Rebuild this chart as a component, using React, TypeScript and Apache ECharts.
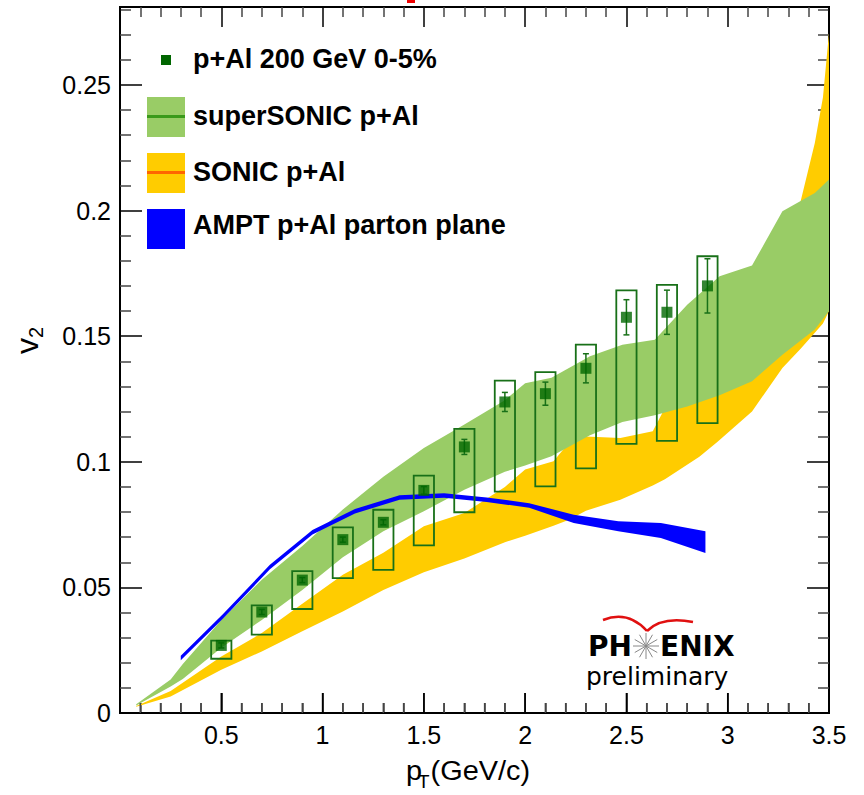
import React, { useEffect, useRef } from "react";
import * as echarts from "echarts";

// ---- data ----
const ptX = [0.5, 0.7, 0.9, 1.1, 1.3, 1.5, 1.7, 1.9, 2.1, 2.3, 2.5, 2.7, 2.9];
const ptV2 = [0.0269, 0.0402, 0.0529, 0.069, 0.0759, 0.0886, 0.1059, 0.1238, 0.1271, 0.1372, 0.1575, 0.1595, 0.17];
const statErr = [0.001, 0.001, 0.001, 0.001, 0.001, 0.0015, 0.003, 0.0038, 0.0046, 0.0058, 0.007, 0.0088, 0.0108];
const sysLow = [0.0216, 0.0312, 0.0414, 0.0537, 0.057, 0.0667, 0.0799, 0.0881, 0.0902, 0.0974, 0.1071, 0.1083, 0.1154];
const sysHigh = [0.0288, 0.0428, 0.0565, 0.0739, 0.0809, 0.0945, 0.1131, 0.1323, 0.1357, 0.1466, 0.1682, 0.1704, 0.1818];
const binHalfWidth = 0.05;

const superX = [0.08, 0.25, 0.31, 0.5, 0.7, 0.9, 1.1, 1.3, 1.5, 1.7, 1.9, 2.0, 2.13, 2.32, 2.48, 2.64, 2.8, 2.96, 3.12, 3.27, 3.43, 3.5];
const superHi = [0.0035, 0.0133, 0.0195, 0.037, 0.053, 0.0665, 0.081, 0.094, 0.1055, 0.1148, 0.1245, 0.1312, 0.1334, 0.142, 0.1466, 0.1486, 0.1625, 0.1738, 0.1781, 0.1997, 0.207, 0.2123];
const superLo = [0.003, 0.0105, 0.0135, 0.026, 0.037, 0.049, 0.062, 0.0723, 0.0803, 0.0889, 0.096, 0.0985, 0.1022, 0.1105, 0.1158, 0.1185, 0.122, 0.1265, 0.132, 0.1426, 0.1526, 0.16];

const sonicX = [0.08, 0.25, 0.5, 0.7, 0.9, 1.1, 1.3, 1.5, 1.7, 1.9, 2.0, 2.14, 2.22, 2.3, 2.47, 2.63, 2.69, 2.86, 2.95, 3.12, 3.27, 3.36, 3.43, 3.47, 3.5];
const sonicHi = [0.0028, 0.0088, 0.0225, 0.0318, 0.0435, 0.055, 0.0638, 0.0743, 0.0796, 0.09, 0.0969, 0.1002, 0.108, 0.1101, 0.1095, 0.1121, 0.1214, 0.1267, 0.13, 0.14, 0.175, 0.2037, 0.2269, 0.245, 0.2707];
const sonicLo = [0.0025, 0.0066, 0.0172, 0.0245, 0.0325, 0.0404, 0.049, 0.056, 0.0615, 0.068, 0.0705, 0.0745, 0.077, 0.0805, 0.0849, 0.0905, 0.093, 0.102, 0.108, 0.12, 0.1373, 0.145, 0.1513, 0.155, 0.16];

const amptX = [0.3, 0.51, 0.74, 0.95, 1.16, 1.38, 1.6, 1.81, 2.02, 2.24, 2.46, 2.67, 2.89];
const amptHi = [0.0228, 0.0395, 0.059, 0.0728, 0.0812, 0.0867, 0.0875, 0.0858, 0.0835, 0.0789, 0.0763, 0.0756, 0.0723];
const amptLo = [0.021, 0.0377, 0.0572, 0.071, 0.0794, 0.0849, 0.0857, 0.084, 0.0817, 0.0756, 0.0723, 0.0697, 0.0637];

const xMin = 0;
const xMax = 3.5;
const xTickStep = 0.5;
const xMinorStep = 0.1;
const yTickStep = 0.05;

const legendLabels = ["p+Al 200 GeV 0-5%", "superSONIC p+Al", "SONIC p+Al", "AMPT p+Al parton plane"];

const FONT = "'Liberation Sans', Arial, Helvetica, sans-serif";
const GREEN_BAND = "#99cc66";
const YELLOW_BAND = "#ffcc00";
const BLUE_BAND = "#0000ff";
const DATA_GREEN = "#006600";
const BOX_GREEN = "#187018";

function bandSeries(name: string, xs: number[], lo: number[], hi: number[], color: string) {
  return {
    type: "custom",
    name,
    xAxisIndex: 0,
    yAxisIndex: 0,
    clip: true,
    silent: true,
    data: xs.map((x, i) => [x, lo[i], hi[i]]),
    encode: { x: 0, y: [1, 2] },
    renderItem: (params: any, api: any) => {
      if (params.dataIndex !== 0) return null;
      const up = xs.map((x, i) => api.coord([x, hi[i]]));
      const dn = xs.map((x, i) => api.coord([x, lo[i]])).reverse();
      return {
        type: "polygon",
        shape: { points: up.concat(dn) },
        style: { fill: color },
      };
    },
  };
}

export default function App() {
  const ref = useRef<HTMLDivElement>(null);
  useEffect(() => {
    if (!ref.current) return;
    const chart = echarts.init(ref.current, undefined, { renderer: "svg" });

    const isMultiple = (v: number, step: number) => Math.abs(v / step - Math.round(v / step)) < 1e-6;

    const xAxisBase = {
      type: "value",
      min: xMin,
      max: xMax,
      interval: xTickStep,
      splitLine: { show: false },
      axisTick: { show: true, inside: true, length: 20, lineStyle: { color: "#000", width: 1.5 } },
      minorTick: { show: true, splitNumber: 5, length: 10, lineStyle: { color: "#444", width: 1.5 } },
    };
    const yAxisBase = {
      type: "value",
      min: 0,
      max: 0.281,
      interval: yTickStep,
      splitLine: { show: false },
      axisTick: { show: true, inside: true, length: 22, lineStyle: { color: "#000", width: 1.5 } },
      minorTick: { show: true, splitNumber: 5, length: 11, lineStyle: { color: "#444", width: 1.5 } },
    };

    // tick values of the bottom axis (drawn through the axis scale by a custom series)
    const bottomTicks: number[] = [];
    for (let k = 1; k * xMinorStep < xMax - 1e-9; k++) bottomTicks.push(+(k * xMinorStep).toFixed(2));

    const option: any = {
      animation: false,
      backgroundColor: "#fff",
      grid: {
        left: 120,
        top: 7,
        width: 709,
        height: 706,
        show: true,
        borderColor: "#000",
        borderWidth: 2,
        backgroundColor: "transparent",
      },
      xAxis: [
        {
          ...xAxisBase,
          position: "bottom",
          axisLine: { show: true, onZero: false, lineStyle: { color: "#000", width: 2 } },
          axisLabel: {
            show: true,
            fontSize: 25,
            color: "#000",
            fontFamily: FONT,
            margin: 9,
            formatter: (v: number) => (v === 0 ? "" : String(v)),
          },
        },
        {
          ...xAxisBase,
          position: "top",
          axisLine: { show: true, onZero: false, lineStyle: { color: "#000", width: 2 } },
          axisLabel: { show: false },
        },
      ],
      yAxis: [
        {
          ...yAxisBase,
          position: "left",
          axisLine: { show: true, onZero: false, lineStyle: { color: "#000", width: 2 } },
          axisLabel: {
            show: true,
            fontSize: 25,
            color: "#000",
            fontFamily: FONT,
            margin: 9,
            formatter: (v: number) => (isMultiple(v, yTickStep) ? String(+v.toFixed(2)) : ""),
          },
        },
        {
          ...yAxisBase,
          position: "right",
          axisLine: { show: true, onZero: false, lineStyle: { color: "#000", width: 2 } },
          axisLabel: { show: false },
        },
      ],
      series: [
        bandSeries("SONIC p+Al", sonicX, sonicLo, sonicHi, YELLOW_BAND),
        bandSeries("superSONIC p+Al", superX, superLo, superHi, GREEN_BAND),
        bandSeries("AMPT p+Al parton plane", amptX, amptLo, amptHi, BLUE_BAND),
        {
          type: "custom",
          name: "sys",
          xAxisIndex: 0,
          yAxisIndex: 0,
          silent: true,
          data: ptX.map((x, i) => [x, sysLow[i], sysHigh[i]]),
          encode: { x: 0, y: [1, 2] },
          renderItem: (params: any, api: any) => {
            const x = api.value(0);
            const p1 = api.coord([x - binHalfWidth, api.value(2)]);
            const p2 = api.coord([x + binHalfWidth, api.value(1)]);
            return {
              type: "rect",
              shape: { x: p1[0], y: p1[1], width: p2[0] - p1[0], height: p2[1] - p1[1] },
              style: { fill: "none", stroke: BOX_GREEN, lineWidth: 1.8 },
            };
          },
        },
        {
          type: "custom",
          name: "stat",
          xAxisIndex: 0,
          yAxisIndex: 0,
          silent: true,
          data: ptX.map((x, i) => [x, ptV2[i] - statErr[i], ptV2[i] + statErr[i]]),
          encode: { x: 0, y: [1, 2] },
          renderItem: (params: any, api: any) => {
            const x = api.value(0);
            const lo = api.coord([x, api.value(1)]);
            const hi = api.coord([x, api.value(2)]);
            const st = { stroke: BOX_GREEN, lineWidth: 1.5 };
            return {
              type: "group",
              children: [
                { type: "line", shape: { x1: lo[0], y1: lo[1], x2: hi[0], y2: hi[1] }, style: st },
                { type: "line", shape: { x1: lo[0] - 3, y1: lo[1], x2: lo[0] + 3, y2: lo[1] }, style: st },
                { type: "line", shape: { x1: hi[0] - 3, y1: hi[1], x2: hi[0] + 3, y2: hi[1] }, style: st },
              ],
            };
          },
        },
        {
          type: "scatter",
          name: legendLabels[0],
          xAxisIndex: 0,
          yAxisIndex: 0,
          symbol: "rect",
          symbolSize: 11,
          itemStyle: { color: DATA_GREEN },
          data: ptX.map((x, i) => [x, ptV2[i]]),
          z: 5,
        },
        {
          // bottom frame line and inner ticks, positioned through the axis scale
          type: "custom",
          name: "bottomAxis",
          xAxisIndex: 0,
          yAxisIndex: 0,
          silent: true,
          clip: false,
          z: 20,
          data: [[xMin, 0]],
          renderItem: (params: any, api: any) => {
            const a = api.coord([xMin, 0]);
            const b = api.coord([xMax, 0]);
            const children: any[] = [
              { type: "line", shape: { x1: a[0] - 1, y1: a[1], x2: b[0] + 1, y2: b[1] }, style: { stroke: "#000", lineWidth: 2 } },
            ];
            bottomTicks.forEach((v) => {
              const p = api.coord([v, 0]);
              const major = isMultiple(v, xTickStep);
              children.push({
                type: "line",
                shape: { x1: p[0], y1: p[1], x2: p[0], y2: p[1] - (major ? 20 : 10) },
                style: { stroke: major ? "#000" : "#444", lineWidth: 1.5 },
              });
            });
            return { type: "group", children };
          },
        },
      ],
      graphic: [
        { type: "rect", shape: { x: 407, y: 0, width: 8, height: 3 }, style: { fill: "#ee0000" } },
        { type: "rect", shape: { x: 161, y: 55, width: 10, height: 10 }, style: { fill: DATA_GREEN } },
        { type: "rect", shape: { x: 147, y: 97, width: 38, height: 40 }, style: { fill: GREEN_BAND } },
        { type: "line", shape: { x1: 147, y1: 116.5, x2: 185, y2: 116.5 }, style: { stroke: "#3a9a1a", lineWidth: 3 } },
        { type: "rect", shape: { x: 147, y: 153, width: 38, height: 40 }, style: { fill: YELLOW_BAND } },
        { type: "line", shape: { x1: 147, y1: 172.5, x2: 185, y2: 172.5 }, style: { stroke: "#ff6600", lineWidth: 3 } },
        { type: "rect", shape: { x: 147, y: 209, width: 38, height: 40 }, style: { fill: BLUE_BAND } },
        ...legendLabels.map((t, i) => ({
          type: "text",
          x: 193,
          y: [59, 115.6, 172.2, 224.6][i],
          style: {
            text: t,
            fontSize: 27,
            fontWeight: "bold",
            fontFamily: FONT,
            fill: "#000",
            align: "left",
            verticalAlign: "middle",
          },
        })),
        {
          type: "group",
          x: 406,
          y: 771,
          scaleX: 1.07,
          children: [
            { type: "text", x: 0, y: 0, style: { text: "p", fontSize: 27, fontFamily: FONT, fill: "#000", verticalAlign: "middle" } },
            { type: "text", x: 11, y: 11, style: { text: "T", fontSize: 18, fontFamily: FONT, fill: "#000", verticalAlign: "middle" } },
            { type: "text", x: 23, y: 0, style: { text: "(GeV/c)", fontSize: 27, fontFamily: FONT, fill: "#000", verticalAlign: "middle" } },
          ],
        },
        {
          type: "group",
          x: 27,
          y: 354,
          rotation: Math.PI / 2,
          children: [
            { type: "text", x: 0, y: 0, style: { text: "v", fontSize: 32, fontFamily: FONT, fill: "#000", verticalAlign: "middle" } },
            { type: "text", x: 16, y: 9, style: { text: "2", fontSize: 20, fontFamily: FONT, fill: "#000", verticalAlign: "middle" } },
          ],
        },
        {
          type: "bezierCurve",
          shape: { x1: 603, y1: 620, cpx1: 628, cpy1: 610, x2: 647, y2: 631 },
          style: { stroke: "#e01010", lineWidth: 2.5, fill: "none" },
        },
        {
          type: "bezierCurve",
          shape: { x1: 647, y1: 631, cpx1: 662, cpy1: 616, x2: 693, y2: 622 },
          style: { stroke: "#e01010", lineWidth: 2.5, fill: "none" },
        },
        { type: "text", x: 588, y: 646, style: { text: "PH", fontSize: 28, fontWeight: "bold", fontFamily: "'DejaVu Sans', sans-serif", fill: "#000", verticalAlign: "middle" } },
        { type: "text", x: 660, y: 646, style: { text: "ENIX", fontSize: 28, fontWeight: "bold", fontFamily: "'DejaVu Sans', sans-serif", fill: "#000", verticalAlign: "middle" } },
        ...Array.from({ length: 12 }, (_, k) => {
          const a = (k * Math.PI) / 6;
          return {
            type: "line",
            shape: { x1: 646, y1: 646, x2: 646 + 13 * Math.cos(a), y2: 646 + 13 * Math.sin(a) },
            style: { stroke: "#888", lineWidth: 1 },
          };
        }),
        { type: "text", x: 586, y: 676, style: { text: "preliminary", fontSize: 25, fontFamily: "'DejaVu Sans', sans-serif", fill: "#000", verticalAlign: "middle" } },
      ],
    };
    chart.setOption(option);
    return () => chart.dispose();
  }, []);
  return <div ref={ref} style={{ position: "fixed", left: 0, top: 0, width: 864, height: 795 }} />;
}
